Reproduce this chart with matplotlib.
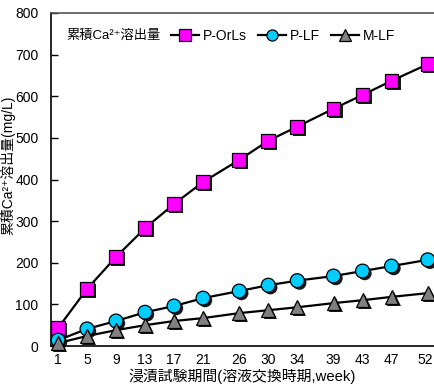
import matplotlib
matplotlib.use('Agg')
import matplotlib.pyplot as plt
import matplotlib.patheffects as pe
import matplotlib.transforms as mtrans

plt.rcParams['font.family'] = ['Liberation Sans', 'DejaVu Sans', 'Noto Sans CJK JP']

weeks = [1, 5, 9, 13, 17, 21, 26, 30, 34, 39, 43, 47, 52]
p_orls = [43, 137, 214, 283, 341, 394, 447, 493, 527, 570, 603, 637, 677]
p_lf = [14, 41, 60, 81, 96, 115, 132, 146, 157, 168, 180, 192, 207]
m_lf = [7, 24, 38, 50, 60, 67, 79, 86, 93, 103, 110, 118, 127]

series = [
    ('P-OrLs', p_orls, 's', '#FF00FF', 10),
    ('P-LF', p_lf, 'o', '#00CCFF', 10),
    ('M-LF', m_lf, '^', '#808080', 10),
]

cjk = ['Liberation Sans', 'Noto Sans CJK JP', 'DejaVu Sans']

W, H = 434, 392
fig = plt.figure(figsize=(W / 100, H / 100), dpi=100)
ax = fig.add_axes([51 / W, 1 - 346 / H, (W - 51) / W, (346 - 13) / H])

shadow = [pe.SimplePatchShadow(offset=(1.6, -1.6), shadow_rgbFace='black', alpha=0.9), pe.Normal()]
handles = []
for name, vals, mk, col, ms in series:
    ax.plot(weeks, vals, color='black', lw=1.6, zorder=2)
    ax.plot(weeks, vals, ls='none', marker=mk, ms=ms, mfc=col, mec='black', mew=0.9,
            zorder=3, path_effects=shadow, clip_on=False)
    h, = ax.plot([], [], color='black', lw=1.6, marker=mk, ms=ms * 0.8, mfc=col, mec='black', mew=0.9)
    h.set_label(name)
    handles.append(h)

ax.set_xlim(0.03, 52.86)
ax.set_ylim(0, 800)
ax.set_xticks(weeks)
ax.set_yticks(range(0, 801, 100))
ax.tick_params(axis='y', direction='in', length=5, width=1, pad=9, labelsize=10)
ax.tick_params(axis='x', length=0, pad=5, labelsize=10)
for s in ['left', 'bottom', 'top']:
    ax.spines[s].set_linewidth(1.2)
ax.spines['top'].set_color('#555555')
ax.spines['right'].set_visible(False)

# keep the last week label inside the picture
fig.canvas.draw()
last = ax.get_xticklabels()[-1]
last.set_transform(last.get_transform() + mtrans.ScaledTranslation(-3 / 100, 0, fig.dpi_scale_trans))

ax.set_xlabel('浸漬試験期間(溶液交換時期,week)', fontsize=10.7, labelpad=1, family=cjk)
fig.text(8 / W, 1 - 165 / H, '累積Ca²⁺溶出量(mg/L)', rotation=90, fontsize=10,
         ha='center', va='center', family=cjk)

fig.text(66 / W, 1 - 36 / H, '累積Ca²⁺溶出量', fontsize=9.5, ha='left', va='center', family=cjk)
fig.legend(handles=handles, loc='center left', bbox_to_anchor=(171 / W, 1 - 36 / H),
           ncol=3, frameon=False, fontsize=10, handlelength=2.0, handletextpad=0.3,
           columnspacing=0.8, borderpad=0, borderaxespad=0)

fig.savefig('out.png', dpi=100)
